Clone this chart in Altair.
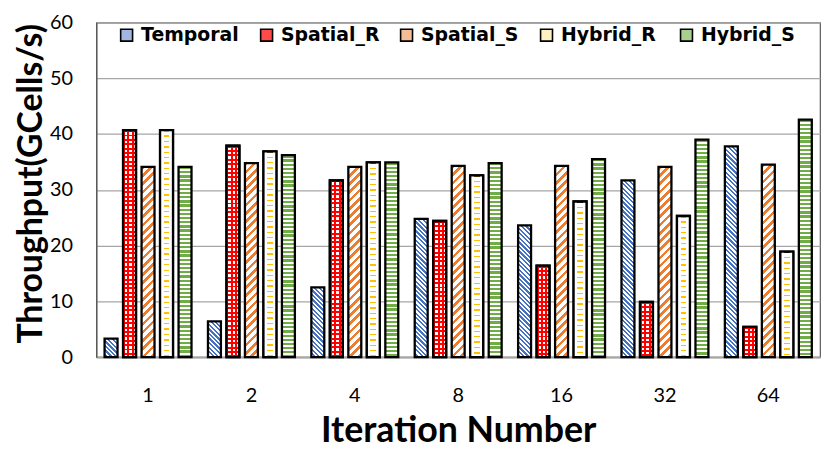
import math
import altair as alt
import pandas as pd

# ---------------- data ----------------
iterations = ["1", "2", "4", "8", "16", "32", "64"]
series = ["Temporal", "Spatial_R", "Spatial_S", "Hybrid_R", "Hybrid_S"]
temporal = [3.3, 6.4, 12.5, 24.8, 23.6, 31.7, 37.8]
spatial_r = [40.7, 37.9, 31.7, 24.4, 16.4, 9.9, 5.4]
spatial_s = [34.1, 34.8, 34.1, 34.3, 34.3, 34.1, 34.5]
hybrid_r = [40.7, 36.9, 34.9, 32.6, 27.9, 25.3, 18.9]
hybrid_s = [34.1, 36.2, 34.9, 34.8, 35.5, 39.0, 42.6]
y_ticks = [0, 10, 20, 30, 40, 50, 60]

values_by_series = {
    "Temporal": temporal,
    "Spatial_R": spatial_r,
    "Spatial_S": spatial_s,
    "Hybrid_R": hybrid_r,
    "Hybrid_S": hybrid_s,
}
rows = []
for s in series:
    for it, v in zip(iterations, values_by_series[s]):
        rows.append({"iteration": it, "series": s, "value": v})
df = pd.DataFrame(rows)

# ---------------- layout / style ----------------
PLOT_W, PLOT_H, YMAX = 729, 337, 60
PAD_L, PAD_T, PAD_R = 89, 13, 3
PAD_B = 443 - PAD_T - PLOT_H
PAGE_MARGIN = 8
X_TITLE_BASELINE = 443  # page y of the x-axis title baseline
FONT = "Lato"
LEGEND_FONT = "DejaVu Sans"
P_IN, P_OUT = 0.3, 0.445
ppu = PLOT_H / YMAX
band = PLOT_W / len(iterations)
off_step = band / (len(series) - P_IN + 2 * P_OUT)
bar_w = off_step * (1 - P_IN)

BLUE, RED, ORANGE, YELLOW, GREEN = "#4472C4", "#FF0000", "#ED7D31", "#FFC000", "#70AD47"
CLEAR = "rgba(255,255,255,0)"
legend_colors = ["#9fb6e0", "#ff4a4a", "#f5bd95", "#fff0c2", "#a9cf8f"]


def stops(n, frac, color, bg="white"):
    out = []
    i = 0
    while i < n:
        s = round(i / n, 5)
        e = round(min((i + frac) / n, 1.0), 5)
        out += [
            {"offset": s, "color": bg},
            {"offset": s, "color": color},
            {"offset": e, "color": color},
            {"offset": e, "color": bg},
        ]
        i += 1
    return out


def grad_horizontal_lines(h, period, frac, color, bg="white"):
    return {"gradient": "linear", "x1": 0, "y1": 0, "x2": 0, "y2": 1,
            "stops": stops(h / period, frac, color, bg)}


def grad_vertical_lines(w, period, frac, color, bg="white"):
    return {"gradient": "linear", "x1": 0, "y1": 0, "x2": 1, "y2": 0,
            "stops": stops(w / period, frac, color, bg)}


def grad_diag(w, h, period, frac, color, forward=True):
    k = h / w
    a = (1 + k) / (1 + k * k)
    n = (w + h) / period
    if forward:   # "/" stripes
        g = {"x1": 0, "y1": 0, "x2": round(a, 6), "y2": round(a * k, 6)}
    else:         # "\" stripes
        g = {"x1": 1, "y1": 0, "x2": round(1 - a, 6), "y2": round(a * k, 6)}
    g.update({"gradient": "linear", "stops": stops(n, frac, color)})
    return g


x_scale = alt.Scale(domain=iterations, paddingInner=0, paddingOuter=0)
off_scale = alt.Scale(domain=series, paddingInner=P_IN, paddingOuter=P_OUT)
y_scale = alt.Scale(domain=[0, YMAX], nice=False)

x_axis = alt.Axis(
    title="Iteration Number", labelAngle=0, ticks=False,
    domainColor="#a6a6a6", domainWidth=2,
    labelFont=FONT, labelFontSize=20, labelColor="black", labelPadding=29,
    titleFont=FONT, titleFontSize=36, titleFontWeight="bold", titleColor="black",
    titleY=X_TITLE_BASELINE - PAGE_MARGIN - PAD_T - PLOT_H,
    titleBaseline="alphabetic",
)
y_axis = alt.Axis(
    title="Throughput(GCells/s)", values=y_ticks, ticks=False,
    domainColor="#595959", domainWidth=1.2,
    grid=True, gridColor="#a6a6a6", gridWidth=1.3,
    labelFont=FONT, labelFontSize=20, labelColor="black", labelPadding=24,
    titleFont=FONT, titleFontSize=34, titleFontWeight="bold", titleColor="black",
    titleAngle=270, titleX=-55, titleY=162, titleAlign="center", titleBaseline="alphabetic",
)

enc = dict(
    x=alt.X("iteration:N", scale=x_scale, axis=x_axis, sort=iterations),
    xOffset=alt.XOffset("series:N", scale=off_scale, sort=series),
    y=alt.Y("value:Q", scale=y_scale, axis=y_axis),
)

base = alt.Chart().mark_bar(strokeWidth=0).encode(
    color=alt.Color(
        "series:N",
        scale=alt.Scale(domain=series, range=legend_colors),
        sort=series,
        legend=alt.Legend(
            title=None, orient="none", legendX=21, legendY=3, direction="horizontal",
            gridAlign="all",
            symbolType="square", symbolSize=144, symbolStrokeColor="black",
            symbolStrokeWidth=1.6, symbolOpacity=1,
            labelFont=LEGEND_FONT, labelFontSize=19, labelFontWeight="bold", labelColor="black",
            labelOffset=5, columnPadding=17, padding=0,
        ),
    ),
    **enc,
)

STROKE = dict(stroke="black", strokeWidth=2.3)
layers = [base]
for s in series:
    for it, v in zip(iterations, values_by_series[s]):
        h = v * ppu
        if s == "Temporal":
            g = grad_diag(bar_w, h, 4.6, 0.5, BLUE, forward=False)
        elif s == "Spatial_S":
            g = grad_diag(bar_w, h, 8.3, 0.45, ORANGE, forward=True)
        elif s == "Spatial_R":
            g = grad_horizontal_lines(h, 4.4, 0.45, RED)
        elif s == "Hybrid_R":
            g = grad_horizontal_lines(h, 5.4, 0.25, YELLOW)
        else:
            g = grad_horizontal_lines(h, 4.2, 0.55, GREEN)
        layers.append(
            alt.Chart().mark_bar(fill=g, **STROKE).encode(**enc).transform_filter(
                (alt.datum.series == s) & (alt.datum.iteration == it)
            )
        )

# checker overlay (vertical red columns on top of horizontal red lines)
layers.append(
    alt.Chart().mark_bar(fill=grad_vertical_lines(bar_w, 4.4, 0.45, RED, CLEAR), **STROKE)
    .encode(**enc).transform_filter(alt.datum.series == "Spatial_R")
)
# dash overlay for Hybrid_R: mask left and right parts of the yellow lines
dash_mask = {"gradient": "linear", "x1": 0, "y1": 0, "x2": 1, "y2": 0, "stops": [
    {"offset": 0, "color": "white"}, {"offset": 0.28, "color": "white"},
    {"offset": 0.28, "color": CLEAR}, {"offset": 0.72, "color": CLEAR},
    {"offset": 0.72, "color": "white"}, {"offset": 1, "color": "white"},
]}
layers.append(
    alt.Chart().mark_bar(fill=dash_mask, **STROKE)
    .encode(**enc).transform_filter(alt.datum.series == "Hybrid_R")
)

chart = alt.layer(*layers, data=df).properties(
    width=PLOT_W, height=PLOT_H,
    autosize=alt.AutoSizeParams(type="none"),
    padding={"left": PAD_L, "top": PAD_T, "right": PAD_R, "bottom": PAD_B},
).configure_view(stroke="#595959", strokeWidth=1.2)

chart.save("out.html", embed_options={"renderer": "svg", "actions": False})
